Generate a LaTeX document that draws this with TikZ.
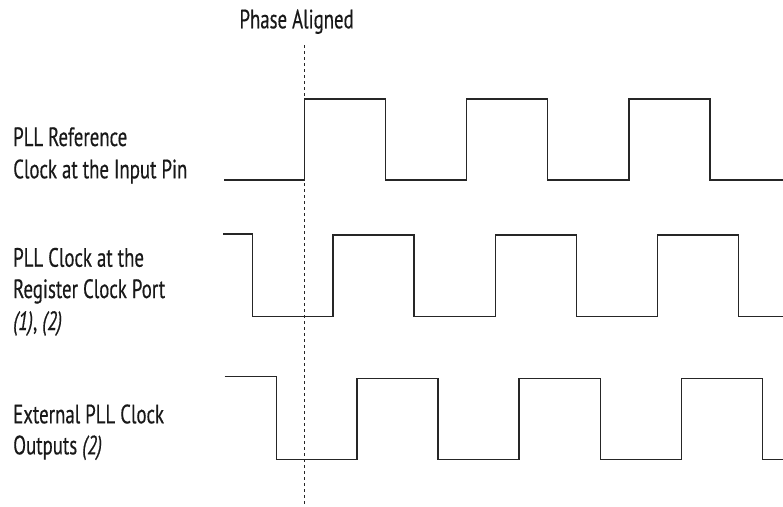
\documentclass[tikz,border=0pt]{standalone}
\usepackage{fontspec}
\setmainfont{PT Sans}[FakeStretch=0.71,FakeBold=0.4]
\tikzset{
  wave/.style={line width=1.3pt, draw=black!85, line join=miter},
  guide/.style={line width=1.2pt, draw=black!85, dash pattern=on 3.2pt off 2.8pt},
  lbl/.style={anchor=base west, inner sep=0pt, text=black!90, font=\fontsize{26.5}{30}\selectfont}
}
\begin{document}
\begin{tikzpicture}[x=1pt,y=-1pt]
\useasboundingbox (0,0) rectangle (783,506);
% labels
\node[lbl] (phase) at (239.3,28.3) {Phase Aligned};
\node[lbl] (refA) at (13,146) {PLL Reference};
\node[lbl] (refB) at (13,178.3) {Clock at the Input Pin};
\node[lbl] (regA) at (13,266.7) {PLL Clock at the};
\node[lbl] (regB) at (13,298) {Register Clock Port};
\node[lbl] (regC) at (13,330) {\textit{(1)}, \textit{(2)}};
\node[lbl] (extA) at (13,423.3) {External PLL Clock};
\node[lbl] (extB) at (13,454.3) {Outputs \textit{(2)}};
% phase-aligned guide
\coordinate (gtop) at (304.5,45);
\coordinate (gbot) at (304.5,506);
\draw[guide] (gtop) -- (gbot);
% reference clock
\draw[wave] (224,180) -- (304.5,180) -- (304.5,99) -- (385.6,99) -- (385.6,180) -- (466.7,180) -- (466.7,99) -- (547.8,99) -- (547.8,180) -- (628.9,180) -- (628.9,99) -- (710,99) -- (710,180) -- (784,180);
% register clock port
\draw[wave] (223,234) -- (252.8,234) -- (252.8,316.7) -- (333,316.7) -- (333,235) -- (414.1,235) -- (414.1,316.7) -- (495.2,316.7) -- (495.2,235) -- (576.3,235) -- (576.3,316.7) -- (657.4,316.7) -- (657.4,235) -- (738.5,235) -- (738.5,316.7) -- (784,316.7);
% external outputs
\draw[wave] (224.5,376.3) -- (276.6,376.3) -- (276.6,459.3) -- (356.9,459.3) -- (356.9,378.7) -- (438,378.7) -- (438,459.3) -- (519.1,459.3) -- (519.1,378.7) -- (600.2,378.7) -- (600.2,459.3) -- (681.3,459.3) -- (681.3,378.7) -- (762.4,378.7) -- (762.4,459.3) -- (784,459.3);
\end{tikzpicture}
\end{document}
